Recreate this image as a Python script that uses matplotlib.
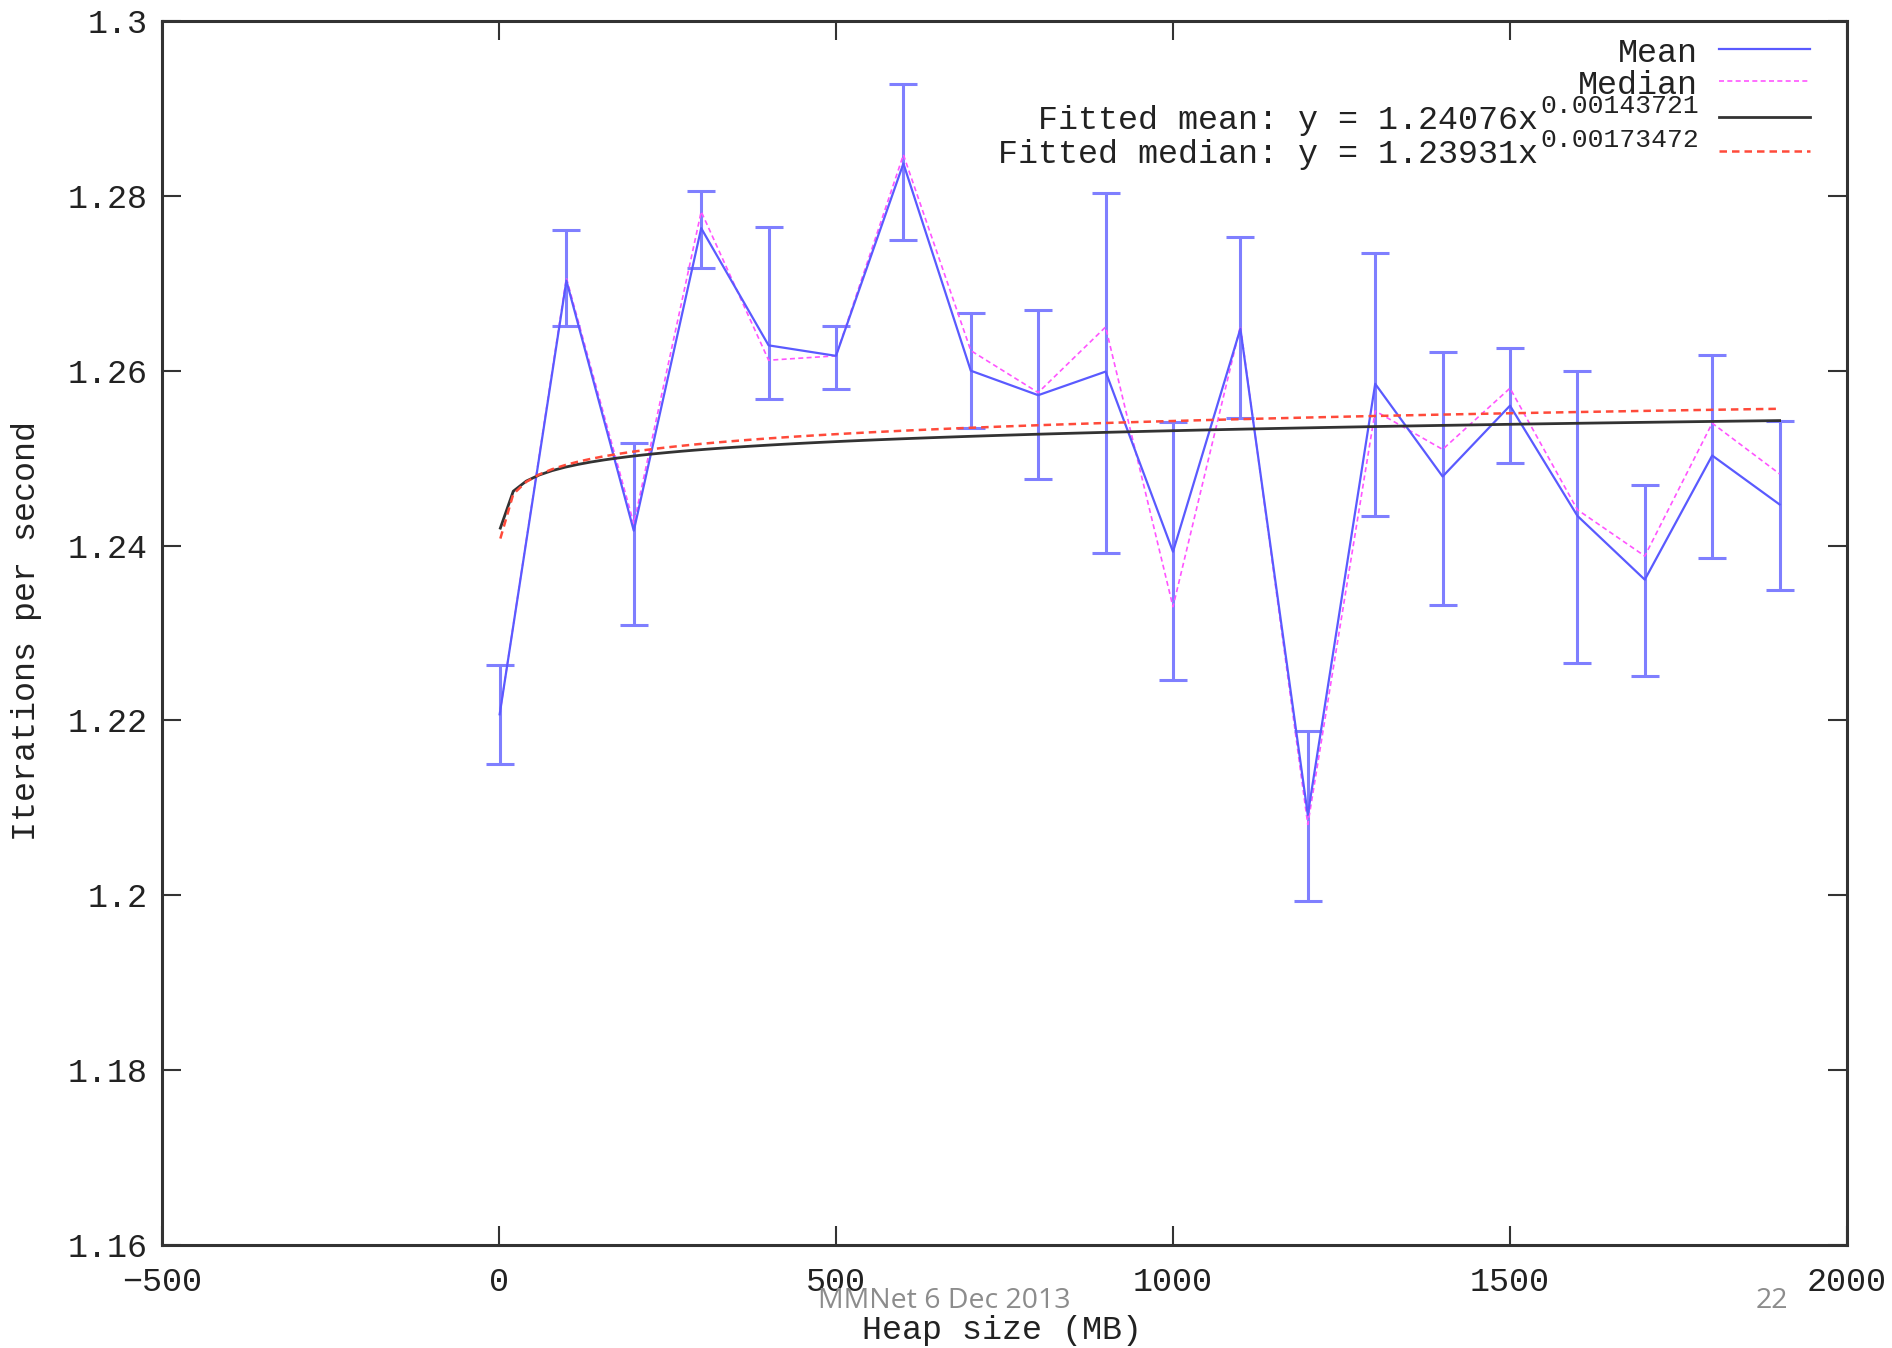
import numpy as np
import matplotlib
matplotlib.use("Agg")
import matplotlib.pyplot as plt

# heap size (MB) and measured iterations per second
heap = [1, 100, 200, 300, 400, 500, 600, 700, 800, 900,
        1000, 1100, 1200, 1300, 1400, 1500, 1600, 1700, 1800, 1900]
mean = [1.2207, 1.2703, 1.2417, 1.2763, 1.2629, 1.2617, 1.2837, 1.2600, 1.2572, 1.2599,
        1.2393, 1.2648, 1.2092, 1.2585, 1.2479, 1.2560, 1.2434, 1.2361, 1.2503, 1.2447]
err_hi = [1.2263, 1.2761, 1.2517, 1.2806, 1.2764, 1.2651, 1.2928, 1.2666, 1.2669, 1.2803,
          1.2541, 1.2753, 1.2188, 1.2735, 1.2621, 1.2626, 1.2600, 1.2469, 1.2618, 1.2542]
err_lo = [1.2150, 1.2651, 1.2309, 1.2717, 1.2568, 1.2579, 1.2749, 1.2534, 1.2476, 1.2392,
          1.2246, 1.2546, 1.1993, 1.2434, 1.2332, 1.2495, 1.2266, 1.2251, 1.2386, 1.2349]
median = [1.2207, 1.2706, 1.2425, 1.2782, 1.2612, 1.2617, 1.2847, 1.2623, 1.2575, 1.2650,
          1.2330, 1.2651, 1.2081, 1.2554, 1.2510, 1.2580, 1.2441, 1.2388, 1.2540, 1.2482]

# fitted power laws y = a * x^b (from the legend)
fit_mean = (1.24076, 0.00143721)
fit_median = (1.23931, 0.00173472)

BLUE = "#5a5aff"
EBLUE = "#7f7fff"
MAGENTA = "#ff55ff"
RED = "#ff4a3a"
MONO = "Liberation Mono"
FS = 24

W, H = 1892, 1348
fig = plt.figure(figsize=(W / 100, H / 100), dpi=100)
ax = fig.add_axes([162 / W, 1 - 1245 / H, (1847 - 162) / W, (1245 - 21) / H])

mean = np.array(mean)
yerr = [mean - np.array(err_lo), np.array(err_hi) - mean]
ax.errorbar(heap, mean, yerr=yerr, fmt="none", ecolor=EBLUE, elinewidth=2.2,
            capsize=10, capthick=2.2, zorder=2)
ax.plot(heap, mean, color=BLUE, lw=1.6, zorder=4)
ax.plot(heap, median, color=MAGENTA, lw=1.2, ls=(0, (3, 2)), zorder=3)

xs = np.linspace(2, heap[-1], 100)
ax.plot(xs, fit_mean[0] * xs ** fit_mean[1], color="#333333", lw=2.0, zorder=5)
ax.plot(xs, fit_median[0] * xs ** fit_median[1], color=RED, lw=1.8,
        ls=(0, (3, 2)), zorder=5)

ax.set_xlim(-500, 2000)
ax.set_ylim(1.16, 1.3)
ax.set_xticks([-500, 0, 500, 1000, 1500, 2000])
ax.set_yticks([1.16, 1.18, 1.2, 1.22, 1.24, 1.26, 1.28, 1.3])
ax.set_yticklabels(["1.16", "1.18", "1.2", "1.22", "1.24", "1.26", "1.28", "1.3"])
ax.tick_params(direction="in", length=14, width=1.5, color="#333333",
               top=True, right=True, labelsize=FS)
ax.tick_params(axis="x", pad=16)
ax.tick_params(axis="y", pad=10)
for lab in ax.get_xticklabels() + ax.get_yticklabels():
    lab.set_fontfamily(MONO)
    lab.set_color("#222222")
for s in ax.spines.values():
    s.set_linewidth(2.2)
    s.set_color("#333333")

fig.text(1002 / W, 1 - 1331 / H, "Heap size (MB)", ha="center", va="center",
         family=MONO, fontsize=FS, color="#222222")
fig.text(27 / W, 1 - 631 / H, "Iterations per second", ha="center", va="center",
         rotation=90, family=MONO, fontsize=FS, color="#222222")

# gnuplot-style key, top right
def fy(y):
    return 1 - y / H

key = [("Mean", None, 53, BLUE, "-", 1.6),
       ("Median", None, 85, MAGENTA, (0, (3, 2)), 1.2),
       ("Fitted mean: y = 1.24076x", "0.00143721", 121, "#333333", "-", 2.0),
       ("Fitted median: y = 1.23931x", "0.00173472", 155, RED, (0, (3, 2)), 1.8)]
for label, sup, y, col, ls, lw in key:
    if sup is None:
        fig.text(1698 / W, fy(y), label, ha="right", va="center",
                 family=MONO, fontsize=FS, color="#222222")
    else:
        fig.text(1538 / W, fy(y), label, ha="right", va="center",
                 family=MONO, fontsize=FS, color="#222222")
        fig.text(1540 / W, fy(y - 15), sup, ha="left", va="center",
                 family=MONO, fontsize=19, color="#222222")
    fig.add_artist(plt.Line2D([1719 / W, 1810 / W], [fy(y - 4), fy(y - 4)],
                              color=col, ls=ls, lw=lw, transform=fig.transFigure))

# slide footer
fig.text(944 / W, 1 - 1301 / H, "MMNet 6 Dec 2013", ha="center", va="center",
         family=["Liberation Sans Narrow", "Open Sans"], fontsize=20.5, color="#8c8c8c")
fig.text(1772 / W, 1 - 1301 / H, "22", ha="center", va="center",
         family=["Liberation Sans Narrow", "Open Sans"], fontsize=20.5, color="#8c8c8c")

fig.savefig("out.png", dpi=100)
